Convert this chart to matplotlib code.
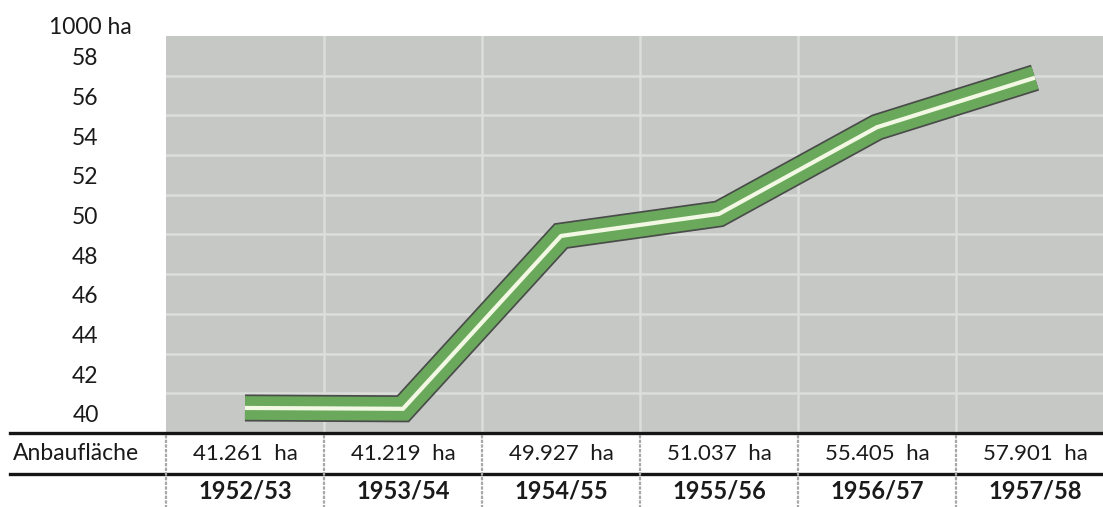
import matplotlib
matplotlib.use("Agg")
import matplotlib.pyplot as plt
from matplotlib.transforms import ScaledTranslation, blended_transform_factory

# Anbaufläche je Wirtschaftsjahr (in 1000 ha)
seasons = ["1952/53", "1953/54", "1954/55", "1955/56", "1956/57", "1957/58"]
area_1000ha = [41.261, 41.219, 49.927, 51.037, 55.405, 57.901]
area_labels = ["41.261  ha", "41.219  ha", "49.927  ha", "51.037  ha", "55.405  ha", "57.901  ha"]
y_ticks = [40, 42, 44, 46, 48, 50, 52, 54, 56, 58]
unit_label = "1000 ha"
row_label = "Anbaufläche"

W, H, DPI = 1103, 507, 100
FONT = "Lato"
plt.rcParams["font.family"] = [FONT, "DejaVu Sans"]

fig = plt.figure(figsize=(W / DPI, H / DPI), dpi=DPI)
fig.patch.set_facecolor("white")

# plot panel in pixel coordinates
left_px, right_px, top_px, bottom_px = 166, 1103, 36, 433
col_w = 158.0
ax = fig.add_axes([left_px / W, 1 - bottom_px / H,
                   (right_px - left_px) / W, (bottom_px - top_px) / H])
ax.set_facecolor("#c6c8c6")
ax.set_xlim(0, (right_px - left_px) / col_w)
ax.set_ylim(40, 60)
for s in ax.spines.values():
    s.set_visible(False)

# grid
ax.set_yticks(y_ticks)
ax.set_xticks(range(1, len(seasons)))
ax.grid(True, color="#dcdedc", linewidth=1.8)
ax.set_axisbelow(True)
ax.tick_params(axis="x", length=0, labelbottom=False)
ax.tick_params(axis="y", length=0, pad=58, labelsize=16.5, labelcolor="#1a1a1a")
ax.set_yticklabels([str(v) for v in y_ticks])
shift = ScaledTranslation(0, 19 / DPI, fig.dpi_scale_trans)
for lab in ax.get_yticklabels():
    lab.set_horizontalalignment("center")
    lab.set_transform(lab.get_transform() + shift)

fig.text(90 / W, 1 - 28 / H, unit_label, ha="center", va="center",
         fontsize=16.5, color="#1a1a1a")

# the curve: dark rim, green band, light centre stripe
xs = [i + 0.5 for i in range(len(seasons))]
ax.plot(xs, area_1000ha, color="#4a4c4a", lw=19.5, solid_capstyle="butt",
        solid_joinstyle="miter", zorder=3)
ax.plot(xs, area_1000ha, color="#6aa95c", lw=17.0, solid_capstyle="butt",
        solid_joinstyle="miter", zorder=4)
ax.plot(xs, area_1000ha, color="#f3f8e4", lw=3.0, solid_capstyle="butt",
        solid_joinstyle="miter", zorder=5)

# table below the panel
def fy(px):
    return 1 - px / H

fig.add_artist(plt.Line2D([10 / W, 1], [fy(433), fy(433)], color="#151515", lw=2.4))
fig.add_artist(plt.Line2D([10 / W, 1], [fy(474), fy(474)], color="#151515", lw=2.4))
for i in range(len(seasons)):
    xp = left_px + i * col_w
    fig.add_artist(plt.Line2D([xp / W, xp / W], [fy(435), 0], color="#a8a8a8",
                              lw=1.6, linestyle=(0, (1.5, 0.6))))

tr = blended_transform_factory(ax.transData, fig.transFigure)
fig.text(13 / W, fy(454), row_label, ha="left", va="center", fontsize=16.5,
         color="#1a1a1a")
for x, lab, season in zip(xs, area_labels, seasons):
    fig.text(x, fy(454), lab, transform=tr, ha="center", va="center",
             fontsize=16, color="#1a1a1a")
    fig.text(x, fy(491), season, transform=tr, ha="center", va="center",
             fontsize=17, fontweight="bold", color="#1a1a1a")

fig.savefig("out.png", dpi=DPI)
